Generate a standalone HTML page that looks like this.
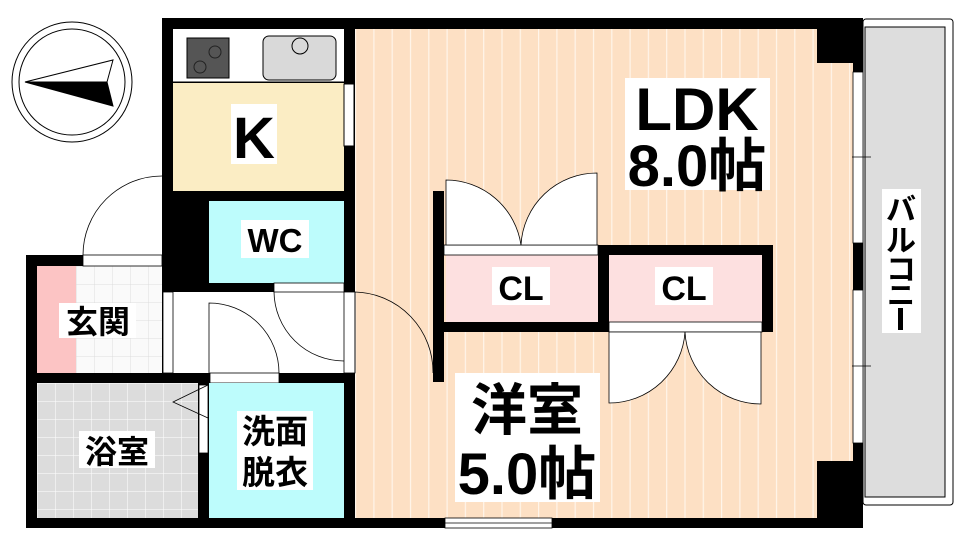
<!DOCTYPE html>
<html><head><meta charset="utf-8"><style>
html,body{margin:0;padding:0;background:#fff;width:976px;height:546px;overflow:hidden}
svg{display:block}
text{font-family:"Liberation Sans","Noto Sans CJK JP",sans-serif;font-weight:bold;fill:#000}
</style></head><body>
<svg width="976" height="546" viewBox="0 0 976 546" xmlns="http://www.w3.org/2000/svg">
<defs>
<pattern id="stripe" x="355" y="0" width="18.3" height="10" patternUnits="userSpaceOnUse">
<rect width="18.3" height="10" fill="#fde0c4"/><rect x="0" width="1.2" height="10" fill="#fff5ea"/></pattern>
<pattern id="tileG" x="37" y="383" width="18" height="18" patternUnits="userSpaceOnUse">
<rect width="18" height="18" fill="#dcdcdc"/><path d="M0 0H18M0 0V18" stroke="#fff" stroke-width="1"/></pattern>
<pattern id="tileW" x="76" y="266" width="18" height="18" patternUnits="userSpaceOnUse">
<rect width="18" height="18" fill="#fafafa"/><path d="M0 0H18M0 0V18" stroke="#ddd" stroke-width="1"/></pattern>
</defs>
<circle cx="72" cy="82" r="60" fill="none" stroke="#000" stroke-width="1"/>
<circle cx="72" cy="82" r="53" fill="none" stroke="#000" stroke-width="1"/>
<path d="M25 82 L113 60 L107 82 Z" fill="#fff" stroke="#000"/>
<path d="M25 82 L107 82 L113 106 Z" fill="#000" stroke="#000"/>
<rect x="863" y="19" width="90" height="486" fill="#fff" stroke="#000" stroke-width="1" rx="3"/>
<rect x="865" y="27" width="80" height="470" fill="#dddddd" stroke="#000" stroke-width="1"/>
<rect x="162" y="18" width="701" height="510" fill="#000"/>
<rect x="26" y="255" width="140" height="273" fill="#000"/>
<rect x="355" y="29" width="498" height="489" fill="url(#stripe)"/>
<rect x="817" y="29" width="36" height="34" fill="#000"/>
<rect x="817" y="461" width="36" height="57" fill="#000"/>
<rect x="173" y="29" width="171" height="53" fill="#fff"/>
<line x1="173" y1="82" x2="344" y2="82" stroke="#000"/>
<rect x="173" y="83" width="171" height="108" fill="#fbedc4"/>
<rect x="344" y="84" width="10" height="62" fill="#fff" stroke="#000" stroke-width="1"/>
<rect x="187" y="38" width="42" height="40" fill="#555" stroke="#000"/>
<circle cx="215" cy="52" r="6" fill="none" stroke="#222"/><circle cx="200" cy="67" r="6" fill="none" stroke="#222"/>
<rect x="263" y="36" width="73" height="44" rx="6" fill="#d9d9d9" stroke="#000"/>
<circle cx="300" cy="46" r="8" fill="none" stroke="#000"/>
<rect x="209" y="201" width="135" height="82" fill="#bdfcfc"/>
<rect x="163" y="292" width="181" height="81" fill="#fff"/>
<rect x="163" y="292" width="10" height="81" fill="#fff" stroke="#000" stroke-width="0.8"/>
<rect x="274" y="283" width="70" height="9" fill="#fff" stroke="#000" stroke-width="0.8"/>
<rect x="344" y="292" width="11" height="81" fill="#fff" stroke="#000" stroke-width="0.8"/>
<rect x="210" y="373" width="69" height="10" fill="#fff" stroke="#000" stroke-width="0.8"/>
<path d="M209 373 V303 A70 70 0 0 1 279 373" fill="none" stroke="#000" stroke-width="0.8"/>
<path d="M274 292 A70 70 0 0 0 344 361" fill="none" stroke="#000" stroke-width="0.8"/>
<path d="M355 373 V292 A80 80 0 0 1 433 373" fill="none" stroke="#000" stroke-width="0.8"/>
<rect x="37" y="266" width="125" height="107" fill="url(#tileW)"/>
<rect x="37" y="266" width="39" height="107" fill="#fcc4c4"/>
<rect x="83" y="255" width="79" height="11" fill="#fff" stroke="#000" stroke-width="0.8"/>
<path d="M83 255 A79 79 0 0 1 162 176" fill="none" stroke="#000" stroke-width="0.8"/>
<rect x="37" y="383" width="161" height="135" fill="url(#tileG)"/>
<rect x="199" y="385" width="9" height="68" fill="#fff" stroke="#000" stroke-width="0.8"/>
<path d="M208 385 L173 402 L208 418" fill="none" stroke="#000" stroke-width="0.8"/>
<rect x="209" y="383" width="135" height="135" fill="#bdfcfc"/>
<rect x="433" y="191" width="11" height="191" fill="#000"/>
<rect x="433" y="322" width="176" height="10" fill="#000"/>
<rect x="598" y="245" width="175" height="87" fill="#000"/>
<rect x="446" y="255" width="152" height="67" fill="#fde0e0"/>
<rect x="609" y="255" width="153" height="67" fill="#fde0e0"/>
<rect x="444" y="245" width="154" height="10" fill="#fff" stroke="#000" stroke-width="0.8"/>
<rect x="609" y="322" width="153" height="10" fill="#fff" stroke="#000" stroke-width="0.8"/>
<path d="M446 245 V180 A76 76 0 0 1 521 245 A76 76 0 0 1 597 173 V245 Z" fill="#fff" stroke="#000" stroke-width="0.8"/>
<path d="M609 332 V403 A76 76 0 0 0 685 332 A76 76 0 0 0 761 404 V332 Z" fill="#fff" stroke="#000" stroke-width="0.8"/>
<rect x="853" y="72" width="10" height="171" fill="#fff" stroke="#000" stroke-width="0.8"/>
<rect x="853" y="290" width="10" height="153" fill="#fff" stroke="#000" stroke-width="0.8"/>
<line x1="852" y1="157" x2="871" y2="157" stroke="#000" stroke-width="0.8"/>
<line x1="852" y1="366" x2="871" y2="366" stroke="#000" stroke-width="0.8"/>
<rect x="445" y="518" width="107" height="10" fill="#fff" stroke="#000" stroke-width="0.8"/>
<line x1="445" y1="523" x2="552" y2="523" stroke="#000" stroke-width="0.8"/>
<rect x="231" y="104" width="46" height="60" fill="#fff"/>
<text x="254" y="158" font-size="58" text-anchor="middle">K</text>
<rect x="241" y="220" width="68" height="38" fill="#fff"/>
<text x="275" y="252" font-size="33" text-anchor="middle">WC</text>
<rect x="59" y="303" width="77" height="35" fill="#fff"/>
<text x="98" y="333" font-size="32" text-anchor="middle">玄関</text>
<rect x="79" y="431" width="76" height="37" fill="#fff"/>
<text x="117" y="463" font-size="32" text-anchor="middle">浴室</text>
<rect x="237" y="411" width="76" height="79" fill="#fff"/>
<text x="275" y="443" font-size="33" text-anchor="middle">洗面</text>
<text x="275" y="484" font-size="33" text-anchor="middle">脱衣</text>
<rect x="625" y="78" width="145" height="112" fill="#fff"/>
<text x="697" y="130" font-size="60" text-anchor="middle">LDK</text>
<text x="697" y="186" font-size="58" text-anchor="middle">8.0帖</text>
<rect x="455" y="373" width="145" height="129" fill="#fff"/>
<text x="527" y="430" font-size="56" text-anchor="middle">洋室</text>
<text x="527" y="494" font-size="58" text-anchor="middle">5.0帖</text>
<rect x="492" y="267" width="58" height="38" fill="#fff"/>
<text x="521" y="300" font-size="34" text-anchor="middle">CL</text>
<rect x="655" y="267" width="58" height="38" fill="#fff"/>
<text x="684" y="300" font-size="34" text-anchor="middle">CL</text>
<rect x="882" y="189" width="39" height="144" fill="#fff"/>
<text x="901" y="220" font-size="30" text-anchor="middle">バ</text>
<text x="901" y="251" font-size="30" text-anchor="middle">ル</text>
<text x="901" y="280" font-size="30" text-anchor="middle">コ</text>
<text x="901" y="305" font-size="28" text-anchor="middle">ニ</text>
<rect x="898" y="308" width="5" height="22" fill="#000"/>
</svg>
</body></html>
